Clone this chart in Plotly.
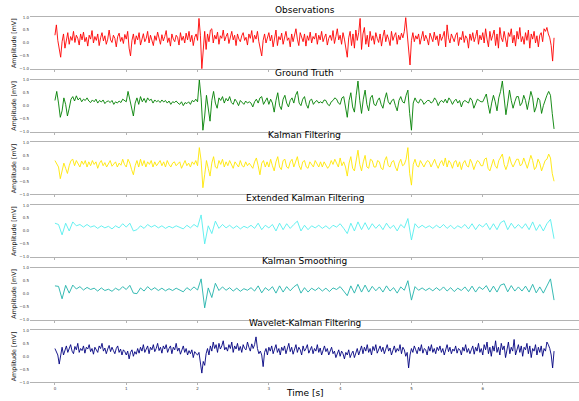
import numpy as np
import plotly.graph_objects as go

titles = ["Observations", "Ground Truth", "Kalman Filtering",
          "Extended Kalman Filtering", "Kalman Smoothing", "Wavelet-Kalman Filtering"]
colors = ["#ff0000", "#008000", "#ffe600", "#55eeee", "#20b2aa", "#000080"]
x_ticks = [0, 1, 2, 3, 4, 5, 6]
y_ticks = [-1.0, -0.5, 0.0, 0.5, 1.0]
y_ticktext = ["\u22121.0", "\u22120.5", "0.0", "0.5", "1.0"]

observations = [
    0.30, 0.70, 0.10, -0.30, -0.55, 0.05, 0.35, -0.20, 0.15, 0.40,
    -0.05, 0.25, 0.10, 0.45, 0.02, 0.30, 0.18, -0.08, 0.35, 0.12,
    0.42, 0.05, 0.22, -0.12, 0.30, 0.15, 0.48, 0.00, 0.25, 0.10,
    0.35, -0.10, 0.20, 0.40, 0.08, 0.28, -0.05, 0.15, 0.50, 0.12,
    0.02, 0.30, 0.18, -0.15, 0.25, 0.38, 0.06, 0.22, -0.02, 0.33,
    0.15, 0.45, -0.20, -0.50, 0.10, 0.35, -0.05, 0.28, 0.12, 0.40,
    -0.08, 0.22, 0.36, 0.05, 0.18, 0.45, 0.00, 0.30, 0.14, -0.10,
    0.28, 0.10, 0.42, 0.20, -0.05, 0.32, 0.08, 0.25, 0.48, 0.02,
    0.20, -0.12, 0.35, 0.15, 0.05, 0.30, 0.22, -0.08, 0.40, 0.10,
    0.26, 0.00, 0.38, 0.12, 0.45, 0.05, 0.30, -0.10, 0.22, 0.35,
    0.10, 0.95, 0.30, -1.00, -0.40, 0.45, -0.25, 0.35, 0.05, 0.50,
    0.55, 0.00, 0.30, 0.15, 0.42, -0.05, 0.28, 0.18, 0.50, 0.08,
    0.25, 0.38, -0.02, 0.20, 0.45, 0.12, 0.30, -0.10, 0.35, 0.15,
    0.05, 0.28, 0.40, 0.10, 0.22, -0.08, 0.35, 0.18, 0.48, 0.02,
    0.30, 0.15, 0.45, 0.05, -0.20, -0.50, 0.10, 0.35, 0.00, 0.25,
    0.40, 0.08, 0.30, -0.15, 0.20, 0.50, -0.10, 0.25, 0.12, 0.38,
    -0.05, 0.28, 0.45, 0.10, 0.20, -0.15, 0.35, 0.05, 0.30, 0.55,
    0.15, -0.10, 0.40, 0.22, 0.05, 0.35, -0.12, 0.28, 0.10, 0.42,
    0.00, 0.25, 0.15, 0.38, -0.05, 0.30, 0.12, 0.45, 0.05, 0.22,
    0.35, -0.08, 0.18, 0.30, 0.10, 0.48, -0.02, 0.25, 0.55, 0.12,
    0.30, -0.05, 0.40, 0.15, -0.30, -0.55, 0.20, 0.45, -0.10, 0.35,
    -0.20, 0.50, 0.10, 0.40, 0.95, -0.25, 0.35, 0.60, -0.05, 0.30,
    -0.15, 0.45, 0.10, 0.28, -0.05, 0.40, 0.18, 0.02, 0.35, -0.12,
    0.25, 0.50, 0.05, 0.32, 0.15, -0.10, 0.45, 0.10, 0.28, 0.40,
    -0.05, 0.30, 0.12, 0.38, 0.20, 0.45, 0.98, 0.30, -0.20, -0.85,
    0.10, 0.40, 0.05, 0.28, 0.15, 0.35, -0.05, 0.22, 0.45, 0.08,
    0.30, 0.15, -0.08, 0.38, 0.20, 0.05, 0.42, 0.12, 0.28, -0.10,
    0.35, 0.10, 0.25, 0.45, -0.15, 0.70, 0.20, 0.00, 0.35, 0.15,
    0.05, 0.30, 0.40, -0.10, 0.22, 0.12, 0.45, 0.02, 0.28, 0.18,
    -0.20, 0.35, 0.10, 0.40, 0.05, 0.25, 0.50, -0.05, 0.30, 0.12,
    0.40, 0.00, 0.55, 0.15, -0.15, 0.45, 0.10, 0.30, 0.50, -0.10,
    0.35, -0.20, 0.60, 0.20, 0.05, 0.45, 0.12, -0.15, 0.40, 0.25,
    0.55, 0.00, 0.30, -0.12, 0.45, 0.15, 0.60, 0.05, 0.25, -0.05,
    0.40, 0.10, 0.50, -0.20, 0.35, 0.15, 0.45, 0.00, 0.28, -0.15,
    0.30, 0.40, 0.05, 0.55, 0.45, 0.60, 0.35, 0.20, -0.10, -0.70,
    0.20,
]

ground_truth = [
    0.20, 0.55, 0.10, -0.45, -0.20, 0.30, 0.05, -0.40, -0.10, 0.25,
    0.35, 0.18, 0.38, 0.22, 0.30, 0.15, 0.25, 0.20, 0.30, 0.18,
    0.12, 0.22, 0.15, 0.25, 0.10, 0.20, 0.14, 0.22, 0.08, 0.16,
    0.18, 0.12, 0.20, 0.05, 0.15, 0.10, 0.18, 0.12, 0.25, 0.20,
    0.15, 0.55, 0.20, -0.10, -0.40, 0.10, 0.30, 0.05, 0.35, 0.15,
    0.28, 0.12, 0.30, 0.20, 0.25, 0.10, 0.22, 0.15, 0.20, 0.12,
    0.22, 0.14, 0.20, 0.10, 0.18, 0.05, 0.15, 0.12, 0.18, 0.10,
    0.05, 0.15, 0.00, 0.12, 0.08, 0.15, 0.05, 0.20, 0.15, 0.25,
    0.15, 1.00, 0.30, -0.95, -0.40, 0.40, -0.10, -0.60, 0.20, 0.55,
    0.10, -0.10, 0.30, 0.20, 0.35, 0.10, 0.28, 0.18, 0.35, 0.12,
    0.05, 0.25, 0.15, 0.00, 0.20, 0.12, 0.05, 0.18, 0.10, 0.15,
    0.10, -0.05, 0.15, 0.25, 0.10, 0.30, 0.35, 0.05, 0.20, 0.30,
    0.05, 0.25, 0.10, -0.25, 0.20, 0.50, 0.00, -0.15, 0.25, 0.40,
    0.10, -0.05, 0.20, 0.30, 0.10, 0.40, 0.55, 0.10, 0.00, 0.25,
    0.35, 0.05, -0.10, 0.20, 0.25, 0.05, 0.15, 0.20, 0.10, 0.15,
    0.10, 0.22, 0.20, 0.05, 0.00, 0.15, 0.20, 0.30, 0.25, 0.10,
    0.05, 0.30, 0.35, -0.10, -0.45, 0.20, 0.50, -0.05, -0.25, 0.40,
    0.95, 0.20, -0.30, 0.25, 0.60, 0.05, -0.20, 0.30, 0.40, 0.05,
    0.00, 0.20, 0.30, 0.05, -0.10, 0.25, 0.50, 0.15, 0.05, 0.20,
    0.25, 0.00, -0.20, 0.20, 0.35, 0.15, 0.10, 0.40, 0.60, -0.30,
    -0.95, 0.10, 0.30, 0.15, 0.10, 0.25, 0.20, 0.05, 0.15, 0.20,
    0.20, 0.10, 0.15, 0.30, 0.20, 0.00, 0.15, 0.20, 0.12, 0.25,
    0.10, 0.30, 0.20, 0.05, 0.18, 0.25, 0.10, 0.20, -0.05, 0.15,
    0.20, 0.15, 0.10, 0.30, 0.20, -0.10, 0.10, 0.25, 0.20, 0.15,
    0.15, 0.30, 0.45, 0.05, -0.30, 0.10, 0.40, 0.15, -0.20, 0.30,
    0.55, 0.95, 0.20, -0.35, 0.10, 0.60, 0.20, -0.10, 0.15, 0.35,
    0.35, 0.00, 0.10, 0.40, 0.20, -0.15, 0.20, 0.55, 0.30, -0.25,
    -0.05, 0.30, 0.20, -0.30, 0.00, 0.25, 0.40, 0.55, 0.40, -0.30,
    -0.90,
]

kalman_filtering = [
    0.30, 0.15, 0.05, -0.40, -0.05, 0.20, 0.00, -0.20, 0.10, 0.30,
    0.35, 0.10, 0.30, 0.20, 0.05, 0.28, 0.15, 0.30, 0.05, 0.25,
    0.10, 0.30, 0.15, 0.25, 0.00, 0.20, 0.30, 0.10, 0.22, 0.05,
    0.20, 0.30, 0.08, 0.18, 0.25, 0.05, 0.20, 0.12, 0.35, 0.15,
    0.05, 0.35, 0.20, -0.05, -0.25, 0.10, 0.30, 0.05, 0.35, 0.10,
    0.30, 0.05, 0.25, 0.15, 0.30, 0.05, 0.25, 0.10, 0.20, 0.30,
    0.10, 0.25, 0.05, 0.30, 0.15, 0.05, 0.20, 0.25, 0.10, 0.20,
    0.25, 0.00, 0.18, 0.30, 0.10, 0.20, 0.05, 0.25, 0.15, 0.30,
    0.10, 0.80, 0.30, -0.75, -0.25, 0.30, 0.00, -0.30, 0.20, 0.45,
    0.05, 0.00, 0.30, 0.15, 0.35, 0.05, 0.25, 0.10, 0.30, 0.15,
    0.00, 0.25, 0.15, 0.05, 0.30, 0.10, 0.05, 0.25, 0.10, 0.20,
    0.10, 0.00, 0.25, 0.40, 0.10, -0.25, 0.20, 0.30, 0.05, 0.25,
    0.05, 0.35, 0.10, -0.10, 0.25, 0.45, 0.05, -0.05, 0.30, 0.35,
    0.05, 0.00, 0.25, 0.35, 0.05, 0.30, 0.45, 0.10, -0.05, 0.25,
    0.30, 0.05, 0.00, 0.25, 0.15, 0.05, 0.30, 0.20, 0.05, 0.25,
    0.05, 0.25, 0.15, 0.00, 0.10, 0.30, 0.15, 0.35, 0.20, 0.05,
    0.40, 0.10, 0.25, 0.05, -0.30, 0.20, 0.45, 0.00, -0.10, 0.35,
    0.70, 0.15, -0.10, 0.25, 0.50, 0.05, 0.00, 0.35, 0.30, 0.05,
    0.05, 0.30, 0.25, 0.00, -0.05, 0.30, 0.45, 0.10, 0.05, 0.25,
    0.30, 0.05, -0.10, 0.20, 0.35, 0.10, 0.15, 0.35, 0.80, -0.20,
    -0.65, 0.15, 0.35, 0.10, 0.05, 0.30, 0.15, 0.05, 0.20, 0.30,
    0.25, 0.05, 0.20, 0.35, 0.15, 0.00, 0.20, 0.30, 0.10, 0.40,
    0.05, 0.30, 0.20, 0.00, 0.25, 0.30, 0.05, 0.25, -0.05, 0.20,
    0.30, 0.10, 0.05, 0.35, 0.20, -0.05, 0.15, 0.30, 0.25, 0.10,
    0.10, 0.35, 0.40, 0.00, -0.10, 0.15, 0.35, 0.10, 0.00, 0.30,
    0.45, 0.55, 0.15, -0.05, 0.15, 0.45, 0.20, 0.05, 0.20, 0.35,
    0.35, 0.10, 0.15, 0.40, 0.20, 0.00, 0.25, 0.50, 0.30, -0.05,
    0.05, 0.35, 0.20, -0.10, 0.10, 0.30, 0.35, 0.55, 0.40, -0.20,
    -0.50,
]

extended_kalman = [
    0.30, 0.25, -0.15, 0.30, 0.00, 0.35, 0.20, 0.25, 0.15, 0.25,
    0.15, 0.20, 0.10, 0.20, 0.12, 0.18, 0.08, 0.20, 0.12, 0.28,
    0.15, 0.30, 0.00, 0.05, 0.20, 0.10, 0.25, 0.15, 0.22, 0.12,
    0.20, 0.10, 0.18, 0.12, 0.20, 0.15, 0.08, 0.22, 0.12, 0.25,
    0.15, 0.62, -0.50, 0.20, -0.10, 0.38, 0.10, 0.25, 0.12, 0.22,
    0.10, 0.20, 0.08, 0.18, 0.12, 0.22, 0.10, 0.30, 0.05, 0.22,
    0.12, 0.25, 0.00, 0.30, 0.05, 0.28, 0.10, 0.25, 0.38, 0.00,
    0.22, 0.05, 0.20, 0.12, 0.22, 0.10, 0.20, 0.08, 0.22, 0.15,
    0.28, 0.10, -0.10, 0.30, 0.00, 0.35, 0.05, 0.32, 0.05, 0.28,
    0.10, 0.25, 0.05, 0.30, 0.10, 0.22, 0.00, 0.25, 0.12, 0.48,
    -0.35, 0.28, 0.12, 0.22, 0.12, 0.20, 0.10, 0.22, 0.12, 0.25,
    0.10, 0.22, 0.08, 0.20, 0.12, 0.25, 0.08, 0.28, 0.05, 0.25,
    0.15, 0.30, 0.05, 0.28, 0.05, 0.32, 0.40, 0.05, 0.30, 0.10,
    0.25, 0.10, 0.28, 0.05, 0.35, 0.02, 0.25, 0.00, 0.28, 0.45,
    -0.30,
]

kalman_smoothing = [
    0.30, 0.28, -0.20, 0.32, 0.02, 0.33, 0.18, 0.27, 0.14, 0.24,
    0.16, 0.21, 0.10, 0.22, 0.12, 0.17, 0.09, 0.21, 0.13, 0.27,
    0.16, 0.32, 0.02, 0.00, 0.22, 0.10, 0.27, 0.14, 0.23, 0.12,
    0.21, 0.11, 0.19, 0.12, 0.21, 0.14, 0.07, 0.23, 0.13, 0.26,
    0.14, 0.57, -0.55, 0.22, -0.15, 0.40, 0.12, 0.26, 0.13, 0.23,
    0.10, 0.21, 0.09, 0.19, 0.13, 0.23, 0.10, 0.30, 0.03, 0.23,
    0.12, 0.27, 0.02, 0.30, 0.06, 0.27, 0.11, 0.26, 0.36, 0.02,
    0.23, 0.06, 0.21, 0.12, 0.23, 0.10, 0.21, 0.08, 0.22, 0.16,
    0.27, 0.10, -0.08, 0.30, 0.02, 0.36, 0.06, 0.33, 0.06, 0.28,
    0.11, 0.26, 0.06, 0.30, 0.10, 0.23, 0.02, 0.26, 0.13, 0.50,
    -0.25, 0.27, 0.13, 0.22, 0.12, 0.21, 0.11, 0.23, 0.12, 0.26,
    0.10, 0.23, 0.08, 0.21, 0.12, 0.26, 0.08, 0.29, 0.06, 0.26,
    0.16, 0.31, 0.06, 0.29, 0.06, 0.33, 0.38, 0.07, 0.31, 0.10,
    0.26, 0.10, 0.29, 0.06, 0.36, 0.03, 0.26, 0.02, 0.30, 0.57,
    -0.25,
]

wavelet_kalman = [
    0.30, 0.15, 0.05, -0.30, 0.10, 0.35, 0.05, 0.25, 0.40, 0.15,
    0.30, 0.45, 0.20, 0.10, 0.38, 0.25, 0.50, 0.15, 0.30, 0.22,
    0.40, 0.12, 0.35, 0.28, 0.45, 0.18, 0.30, 0.08, 0.35, 0.25,
    0.15, 0.40, 0.30, 0.50, 0.20, 0.32, 0.10, 0.28, 0.42, 0.18,
    0.35, 0.22, 0.10, 0.30, 0.40, 0.15, 0.28, 0.05, 0.25, 0.18,
    0.05, 0.20, -0.10, 0.15, 0.25, 0.00, 0.18, 0.08, 0.30, 0.12,
    0.35, 0.20, 0.45, 0.15, 0.30, 0.40, 0.10, 0.35, 0.25, 0.45,
    0.18, 0.30, 0.50, 0.22, 0.35, 0.12, 0.40, 0.28, 0.45, 0.15,
    0.30, 0.40, 0.10, 0.35, 0.25, 0.50, 0.20, 0.32, 0.08, 0.28,
    0.40, 0.15, 0.30, 0.05, 0.22, 0.10, 0.25, -0.05, 0.18, 0.10,
    0.05, 0.15, -0.30, -0.65, -0.20, -0.35, 0.10, 0.30, 0.05, 0.40,
    0.20, 0.55, 0.30, 0.45, 0.15, 0.50, 0.28, 0.40, 0.60, 0.25,
    0.35, 0.20, 0.45, 0.30, 0.55, 0.15, 0.40, 0.28, 0.50, 0.22,
    0.38, 0.15, 0.45, 0.30, 0.25, 0.55, 0.35, 0.20, 0.48, 0.30,
    0.45, 0.75, 0.30, 0.10, 0.20, 0.05, -0.40, 0.15, 0.30, 0.05,
    0.35, 0.20, 0.40, 0.10, 0.28, 0.45, 0.15, 0.30, 0.05, 0.35,
    0.22, 0.40, 0.10, 0.30, 0.50, 0.18, 0.35, 0.08, 0.28, 0.45,
    0.15, 0.35, 0.25, 0.05, 0.40, 0.20, 0.30, 0.45, 0.12, 0.25,
    0.38, 0.10, 0.30, 0.20, 0.45, 0.15, 0.32, 0.05, 0.28, 0.40,
    0.18, 0.30, 0.05, 0.25, 0.35, 0.10, 0.20, -0.05, 0.15, 0.25,
    0.00, 0.20, 0.10, -0.10, 0.15, 0.05, 0.25, -0.05, 0.10, 0.20,
    -0.05, 0.15, 0.30, 0.05, 0.25, 0.40, 0.10, 0.35, 0.20, 0.45,
    0.15, 0.30, 0.05, 0.38, 0.22, 0.45, 0.12, 0.30, 0.40, 0.18,
    0.35, 0.10, 0.28, 0.45, 0.20, 0.32, 0.05, 0.25, 0.40, 0.15,
    0.30, 0.20, 0.45, 0.10, 0.35, 0.25, 0.00, 0.15, -0.45, 0.05,
    0.30, 0.15, 0.40, 0.25, 0.10, 0.35, 0.20, 0.45, 0.12, 0.30,
    0.25, 0.05, 0.38, 0.20, 0.45, 0.15, 0.30, 0.10, 0.35, 0.22,
    0.40, 0.15, 0.30, 0.05, 0.25, 0.45, 0.18, 0.35, 0.10, 0.28,
    0.20, 0.40, 0.12, 0.30, 0.25, 0.05, 0.35, 0.20, 0.45, 0.15,
    0.30, 0.10, 0.25, 0.40, 0.08, 0.35, 0.20, 0.50, 0.15, 0.30,
    0.05, 0.45, 0.25, 0.55, 0.10, 0.35, 0.00, 0.40, 0.20, 0.60,
    0.15, 0.35, 0.05, 0.50, 0.25, 0.40, -0.05, 0.30, 0.55, 0.10,
    0.35, 0.20, 0.65, 0.05, 0.30, 0.45, 0.15, 0.40, 0.00, 0.35,
    0.25, 0.50, 0.10, 0.40, -0.05, 0.30, 0.20, 0.45, 0.05, 0.35,
    0.15, 0.40, 0.00, 0.30, 0.20, 0.55, 0.45, 0.30, 0.05, -0.45,
    0.20,
]

series = [observations, ground_truth, kalman_filtering,
          extended_kalman, kalman_smoothing, wavelet_kalman]

W, H = 579, 401
X0_PX, X1_PX = 30, 579
FIRST_TOP, PITCH, PLOT_H = 14.3, 63.45, 52.4
FONT = "DejaVu Sans"
SPINE = "#b3b3b3"

fig = go.Figure()
layout = dict(width=W, height=H, margin=dict(l=0, r=0, t=0, b=0),
              paper_bgcolor="white", plot_bgcolor="white",
              showlegend=False, font=dict(family=FONT, color="#333333"))
annotations = []

for k, (vals, col, title) in enumerate(zip(series, colors, titles)):
    n = len(vals)
    t = np.linspace(0, 7, n)
    sfx = "" if k == 0 else str(k + 1)
    fig.add_trace(go.Scatter(x=t, y=vals, mode="lines",
                             line=dict(color=col, width=0.9),
                             xaxis="x" + sfx, yaxis="y" + sfx,
                             hoverinfo="skip"))
    top = FIRST_TOP + PITCH * k
    bot = top + PLOT_H
    dom = [1 - bot / H, 1 - top / H]
    last = k == len(series) - 1
    layout["xaxis" + sfx] = dict(
        domain=[X0_PX / W, X1_PX / W], range=[-0.35, 7.35], anchor="y" + sfx,
        showline=True, mirror=True, linecolor=SPINE, linewidth=1,
        showgrid=False, zeroline=False,
        tickvals=x_ticks, ticks="outside", ticklen=2, tickwidth=0.6,
        tickcolor=SPINE, showticklabels=last,
        tickfont=dict(size=4, color="#444444", family=FONT))
    layout["yaxis" + sfx] = dict(
        domain=dom, range=[-1, 1], anchor="x" + sfx,
        showline=False, showgrid=False, zeroline=False,
        tickvals=y_ticks, ticktext=y_ticktext, ticks="",
        tickfont=dict(size=4, color="#444444", family=FONT))
    annotations.append(dict(
        text=title, xref="paper", yref="paper",
        x=(X0_PX + X1_PX) / 2 / W, y=dom[1], xanchor="center", yanchor="bottom",
        yshift=0, showarrow=False, font=dict(size=9, color="black", family=FONT)))
    annotations.append(dict(
        text="Amplitude [mV]", xref="paper", yref="paper",
        x=14 / W, y=(dom[0] + dom[1]) / 2, xanchor="center", yanchor="middle",
        textangle=-90, showarrow=False, font=dict(size=6.3, color="#222222", family=FONT)))

annotations.append(dict(
    text="Time [s]", xref="paper", yref="paper",
    x=(X0_PX + X1_PX) / 2 / W, y=1 - 395 / H, xanchor="center", yanchor="middle",
    showarrow=False, font=dict(size=9, color="black", family=FONT)))

layout["annotations"] = annotations
fig.update_layout(**layout)
fig.write_html("out.html",
               config={"displayModeBar": False},
               post_script="document.body.style.margin='0';"
                           "document.body.style.overflow='hidden';")
